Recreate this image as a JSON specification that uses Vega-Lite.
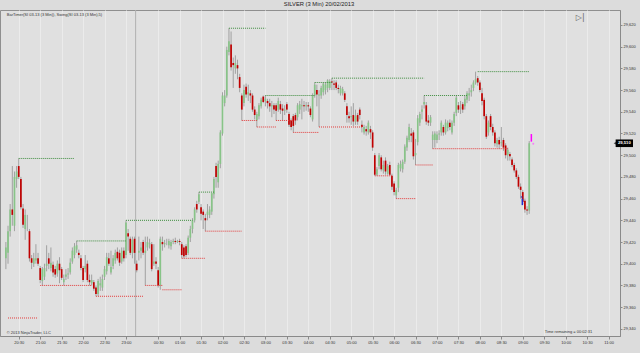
{
"$schema": "https://vega.github.io/schema/vega-lite/v6.json",
"width": 620, "height": 326,
"autosize": {"type": "none"},
"padding": {"left": 0, "top": 10, "right": 20, "bottom": 17},
"background": "#dcdcdc",
"config": {"view": {"fill": "#e0e0e0", "stroke": "#8f8f8f"}, "font": "Liberation Sans", "axis": {"labelOverlap": false, "tickCount": 100}},
"title": {"text": "SILVER (3 Min)  20/02/2013", "fontSize": 5.8, "fontWeight": "normal", "color": "#222", "offset": 2.7, "anchor": "middle", "dx": 9},
"datasets": {
"one": [{}],
"candles": [
{"i":0,"o":29.405,"h":29.42,"l":29.395,"c":29.415},
{"i":1,"o":29.41,"h":29.435,"l":29.4,"c":29.43},
{"i":2,"o":29.43,"h":29.455,"l":29.425,"c":29.45},
{"i":3,"o":29.45,"h":29.49,"l":29.435,"c":29.445},
{"i":4,"o":29.435,"h":29.485,"l":29.43,"c":29.48},
{"i":5,"o":29.478,"h":29.49,"l":29.47,"c":29.485},
{"i":6,"o":29.49,"h":29.497,"l":29.478,"c":29.48},
{"i":7,"o":29.478,"h":29.48,"l":29.45,"c":29.452},
{"i":8,"o":29.451,"h":29.455,"l":29.433,"c":29.436},
{"i":9,"o":29.432,"h":29.45,"l":29.422,"c":29.445},
{"i":10,"o":29.44,"h":29.445,"l":29.43,"c":29.44},
{"i":11,"o":29.43,"h":29.432,"l":29.402,"c":29.405},
{"i":12,"o":29.405,"h":29.408,"l":29.395,"c":29.401},
{"i":13,"o":29.4,"h":29.41,"l":29.397,"c":29.405},
{"i":14,"o":29.403,"h":29.418,"l":29.4,"c":29.405},
{"i":15,"o":29.405,"h":29.41,"l":29.398,"c":29.4},
{"i":16,"o":29.396,"h":29.398,"l":29.382,"c":29.385},
{"i":17,"o":29.384,"h":29.397,"l":29.38,"c":29.395},
{"i":18,"o":29.388,"h":29.4,"l":29.385,"c":29.396},
{"i":19,"o":29.398,"h":29.417,"l":29.393,"c":29.4},
{"i":20,"o":29.405,"h":29.41,"l":29.395,"c":29.4},
{"i":21,"o":29.396,"h":29.415,"l":29.393,"c":29.401},
{"i":22,"o":29.399,"h":29.402,"l":29.388,"c":29.392},
{"i":23,"o":29.395,"h":29.398,"l":29.387,"c":29.39},
{"i":24,"o":29.391,"h":29.403,"l":29.388,"c":29.4},
{"i":25,"o":29.4,"h":29.406,"l":29.382,"c":29.394},
{"i":26,"o":29.395,"h":29.397,"l":29.385,"c":29.387},
{"i":27,"o":29.383,"h":29.39,"l":29.38,"c":29.386},
{"i":28,"o":29.388,"h":29.395,"l":29.385,"c":29.39},
{"i":29,"o":29.39,"h":29.396,"l":29.386,"c":29.391},
{"i":30,"o":29.392,"h":29.405,"l":29.39,"c":29.401},
{"i":31,"o":29.402,"h":29.415,"l":29.4,"c":29.412},
{"i":32,"o":29.408,"h":29.419,"l":29.405,"c":29.416},
{"i":33,"o":29.413,"h":29.421,"l":29.41,"c":29.417},
{"i":34,"o":29.41,"h":29.413,"l":29.405,"c":29.408},
{"i":35,"o":29.405,"h":29.408,"l":29.394,"c":29.396},
{"i":36,"o":29.396,"h":29.398,"l":29.383,"c":29.385},
{"i":37,"o":29.395,"h":29.408,"l":29.392,"c":29.398},
{"i":38,"o":29.4,"h":29.403,"l":29.383,"c":29.385},
{"i":39,"o":29.385,"h":29.39,"l":29.38,"c":29.383},
{"i":40,"o":29.382,"h":29.39,"l":29.38,"c":29.385},
{"i":41,"o":29.383,"h":29.385,"l":29.375,"c":29.377},
{"i":42,"o":29.378,"h":29.38,"l":29.37,"c":29.372},
{"i":43,"o":29.372,"h":29.386,"l":29.37,"c":29.384},
{"i":44,"o":29.38,"h":29.388,"l":29.375,"c":29.382},
{"i":45,"o":29.378,"h":29.39,"l":29.375,"c":29.386},
{"i":46,"o":29.388,"h":29.398,"l":29.385,"c":29.395},
{"i":47,"o":29.393,"h":29.41,"l":29.39,"c":29.406},
{"i":48,"o":29.405,"h":29.41,"l":29.398,"c":29.4},
{"i":49,"o":29.392,"h":29.412,"l":29.39,"c":29.397},
{"i":50,"o":29.398,"h":29.408,"l":29.395,"c":29.405},
{"i":51,"o":29.403,"h":29.413,"l":29.4,"c":29.41},
{"i":52,"o":29.411,"h":29.415,"l":29.403,"c":29.405},
{"i":53,"o":29.41,"h":29.413,"l":29.398,"c":29.401},
{"i":54,"o":29.402,"h":29.415,"l":29.4,"c":29.412},
{"i":55,"o":29.412,"h":29.415,"l":29.402,"c":29.405},
{"i":56,"o":29.408,"h":29.44,"l":29.405,"c":29.438},
{"i":57,"o":29.428,"h":29.432,"l":29.412,"c":29.425},
{"i":58,"o":29.423,"h":29.425,"l":29.408,"c":29.41},
{"i":59,"o":29.41,"h":29.425,"l":29.405,"c":29.422},
{"i":60,"o":29.423,"h":29.425,"l":29.4,"c":29.41},
{"i":61,"o":29.4,"h":29.403,"l":29.392,"c":29.394},
{"i":62,"o":29.41,"h":29.425,"l":29.403,"c":29.412},
{"i":63,"o":29.412,"h":29.42,"l":29.405,"c":29.415},
{"i":64,"o":29.42,"h":29.422,"l":29.408,"c":29.41},
{"i":65,"o":29.41,"h":29.425,"l":29.38,"c":29.412},
{"i":66,"o":29.415,"h":29.425,"l":29.412,"c":29.42},
{"i":67,"o":29.418,"h":29.423,"l":29.414,"c":29.419},
{"i":68,"o":29.418,"h":29.42,"l":29.393,"c":29.395},
{"i":69,"o":29.4,"h":29.418,"l":29.398,"c":29.402},
{"i":70,"o":29.402,"h":29.406,"l":29.395,"c":29.4},
{"i":71,"o":29.394,"h":29.397,"l":29.378,"c":29.38},
{"i":72,"o":29.38,"h":29.425,"l":29.376,"c":29.423},
{"i":73,"o":29.42,"h":29.425,"l":29.412,"c":29.418},
{"i":74,"o":29.418,"h":29.422,"l":29.415,"c":29.419},
{"i":75,"o":29.42,"h":29.423,"l":29.417,"c":29.42},
{"i":76,"o":29.417,"h":29.423,"l":29.414,"c":29.421},
{"i":77,"o":29.416,"h":29.422,"l":29.413,"c":29.42},
{"i":78,"o":29.42,"h":29.423,"l":29.418,"c":29.421},
{"i":79,"o":29.421,"h":29.424,"l":29.418,"c":29.42},
{"i":80,"o":29.42,"h":29.422,"l":29.419,"c":29.421},
{"i":81,"o":29.421,"h":29.423,"l":29.417,"c":29.42},
{"i":82,"o":29.418,"h":29.42,"l":29.405,"c":29.408},
{"i":83,"o":29.415,"h":29.417,"l":29.405,"c":29.407},
{"i":84,"o":29.416,"h":29.418,"l":29.406,"c":29.408},
{"i":85,"o":29.41,"h":29.426,"l":29.408,"c":29.424},
{"i":86,"o":29.424,"h":29.435,"l":29.42,"c":29.432},
{"i":87,"o":29.432,"h":29.442,"l":29.428,"c":29.44},
{"i":88,"o":29.44,"h":29.452,"l":29.438,"c":29.45},
{"i":89,"o":29.455,"h":29.458,"l":29.447,"c":29.45},
{"i":90,"o":29.457,"h":29.466,"l":29.455,"c":29.464},
{"i":91,"o":29.452,"h":29.455,"l":29.44,"c":29.446},
{"i":92,"o":29.448,"h":29.45,"l":29.432,"c":29.445},
{"i":93,"o":29.442,"h":29.446,"l":29.43,"c":29.44},
{"i":94,"o":29.445,"h":29.455,"l":29.44,"c":29.448},
{"i":95,"o":29.445,"h":29.453,"l":29.442,"c":29.45},
{"i":96,"o":29.448,"h":29.465,"l":29.445,"c":29.465},
{"i":97,"o":29.464,"h":29.48,"l":29.46,"c":29.478},
{"i":98,"o":29.49,"h":29.493,"l":29.47,"c":29.48},
{"i":99,"o":29.475,"h":29.495,"l":29.47,"c":29.492},
{"i":100,"o":29.492,"h":29.523,"l":29.488,"c":29.521},
{"i":101,"o":29.52,"h":29.558,"l":29.518,"c":29.555},
{"i":102,"o":29.548,"h":29.56,"l":29.545,"c":29.555},
{"i":103,"o":29.555,"h":29.6,"l":29.553,"c":29.597},
{"i":104,"o":29.595,"h":29.617,"l":29.592,"c":29.605},
{"i":105,"o":29.602,"h":29.614,"l":29.578,"c":29.581},
{"i":106,"o":29.585,"h":29.59,"l":29.562,"c":29.583},
{"i":107,"o":29.58,"h":29.592,"l":29.575,"c":29.585},
{"i":108,"o":29.583,"h":29.588,"l":29.57,"c":29.58},
{"i":109,"o":29.572,"h":29.575,"l":29.558,"c":29.562},
{"i":110,"o":29.555,"h":29.557,"l":29.532,"c":29.542},
{"i":111,"o":29.548,"h":29.565,"l":29.545,"c":29.56},
{"i":112,"o":29.563,"h":29.566,"l":29.553,"c":29.556},
{"i":113,"o":29.556,"h":29.565,"l":29.55,"c":29.558},
{"i":114,"o":29.557,"h":29.56,"l":29.548,"c":29.555},
{"i":115,"o":29.555,"h":29.557,"l":29.54,"c":29.542},
{"i":116,"o":29.542,"h":29.545,"l":29.533,"c":29.537},
{"i":117,"o":29.532,"h":29.54,"l":29.526,"c":29.538},
{"i":118,"o":29.536,"h":29.548,"l":29.533,"c":29.546},
{"i":119,"o":29.545,"h":29.553,"l":29.543,"c":29.551},
{"i":120,"o":29.554,"h":29.555,"l":29.548,"c":29.549},
{"i":121,"o":29.55,"h":29.555,"l":29.545,"c":29.552},
{"i":122,"o":29.55,"h":29.552,"l":29.543,"c":29.548},
{"i":123,"o":29.548,"h":29.552,"l":29.54,"c":29.545},
{"i":124,"o":29.545,"h":29.55,"l":29.535,"c":29.546},
{"i":125,"o":29.546,"h":29.548,"l":29.538,"c":29.542},
{"i":126,"o":29.546,"h":29.548,"l":29.532,"c":29.541},
{"i":127,"o":29.542,"h":29.553,"l":29.54,"c":29.55},
{"i":128,"o":29.547,"h":29.55,"l":29.538,"c":29.542},
{"i":129,"o":29.543,"h":29.547,"l":29.532,"c":29.541},
{"i":130,"o":29.541,"h":29.546,"l":29.537,"c":29.542},
{"i":131,"o":29.547,"h":29.549,"l":29.539,"c":29.542},
{"i":132,"o":29.538,"h":29.54,"l":29.526,"c":29.528},
{"i":133,"o":29.532,"h":29.534,"l":29.523,"c":29.526},
{"i":134,"o":29.536,"h":29.538,"l":29.521,"c":29.527},
{"i":135,"o":29.537,"h":29.539,"l":29.528,"c":29.532},
{"i":136,"o":29.535,"h":29.548,"l":29.532,"c":29.546},
{"i":137,"o":29.542,"h":29.55,"l":29.538,"c":29.547},
{"i":138,"o":29.545,"h":29.552,"l":29.533,"c":29.546},
{"i":139,"o":29.546,"h":29.55,"l":29.54,"c":29.545},
{"i":140,"o":29.545,"h":29.549,"l":29.541,"c":29.546},
{"i":141,"o":29.546,"h":29.549,"l":29.54,"c":29.545},
{"i":142,"o":29.543,"h":29.545,"l":29.535,"c":29.537},
{"i":143,"o":29.533,"h":29.557,"l":29.531,"c":29.555},
{"i":144,"o":29.555,"h":29.567,"l":29.553,"c":29.565},
{"i":145,"o":29.56,"h":29.565,"l":29.545,"c":29.556},
{"i":146,"o":29.555,"h":29.56,"l":29.526,"c":29.556},
{"i":147,"o":29.555,"h":29.564,"l":29.552,"c":29.562},
{"i":148,"o":29.558,"h":29.567,"l":29.555,"c":29.566},
{"i":149,"o":29.56,"h":29.567,"l":29.556,"c":29.565},
{"i":150,"o":29.562,"h":29.57,"l":29.558,"c":29.569},
{"i":151,"o":29.562,"h":29.57,"l":29.56,"c":29.568},
{"i":152,"o":29.568,"h":29.571,"l":29.56,"c":29.567},
{"i":153,"o":29.566,"h":29.569,"l":29.56,"c":29.565},
{"i":154,"o":29.567,"h":29.569,"l":29.56,"c":29.562},
{"i":155,"o":29.562,"h":29.565,"l":29.557,"c":29.561},
{"i":156,"o":29.557,"h":29.564,"l":29.555,"c":29.562},
{"i":157,"o":29.557,"h":29.563,"l":29.555,"c":29.561},
{"i":158,"o":29.557,"h":29.559,"l":29.549,"c":29.551},
{"i":159,"o":29.545,"h":29.548,"l":29.53,"c":29.537},
{"i":160,"o":29.536,"h":29.54,"l":29.53,"c":29.534},
{"i":161,"o":29.535,"h":29.545,"l":29.528,"c":29.536},
{"i":162,"o":29.537,"h":29.548,"l":29.527,"c":29.531},
{"i":163,"o":29.531,"h":29.542,"l":29.528,"c":29.536},
{"i":164,"o":29.537,"h":29.539,"l":29.528,"c":29.531},
{"i":165,"o":29.542,"h":29.544,"l":29.533,"c":29.537},
{"i":166,"o":29.528,"h":29.532,"l":29.521,"c":29.526},
{"i":167,"o":29.521,"h":29.528,"l":29.519,"c":29.526},
{"i":168,"o":29.524,"h":29.527,"l":29.518,"c":29.522},
{"i":169,"o":29.521,"h":29.532,"l":29.519,"c":29.53},
{"i":170,"o":29.524,"h":29.527,"l":29.515,"c":29.521},
{"i":171,"o":29.521,"h":29.523,"l":29.504,"c":29.507},
{"i":172,"o":29.5,"h":29.502,"l":29.481,"c":29.482},
{"i":173,"o":29.482,"h":29.489,"l":29.481,"c":29.487},
{"i":174,"o":29.49,"h":29.502,"l":29.487,"c":29.5},
{"i":175,"o":29.498,"h":29.5,"l":29.485,"c":29.487},
{"i":176,"o":29.486,"h":29.495,"l":29.483,"c":29.491},
{"i":177,"o":29.495,"h":29.498,"l":29.482,"c":29.485},
{"i":178,"o":29.483,"h":29.492,"l":29.482,"c":29.49},
{"i":179,"o":29.491,"h":29.494,"l":29.481,"c":29.482},
{"i":180,"o":29.481,"h":29.483,"l":29.468,"c":29.471},
{"i":181,"o":29.474,"h":29.476,"l":29.463,"c":29.466},
{"i":182,"o":29.463,"h":29.47,"l":29.46,"c":29.468},
{"i":183,"o":29.47,"h":29.493,"l":29.466,"c":29.491},
{"i":184,"o":29.488,"h":29.495,"l":29.485,"c":29.492},
{"i":185,"o":29.487,"h":29.496,"l":29.484,"c":29.494},
{"i":186,"o":29.494,"h":29.51,"l":29.492,"c":29.508},
{"i":187,"o":29.507,"h":29.518,"l":29.504,"c":29.516},
{"i":188,"o":29.514,"h":29.529,"l":29.512,"c":29.526},
{"i":189,"o":29.52,"h":29.525,"l":29.512,"c":29.518},
{"i":190,"o":29.521,"h":29.523,"l":29.496,"c":29.499},
{"i":191,"o":29.5,"h":29.515,"l":29.491,"c":29.502},
{"i":192,"o":29.512,"h":29.537,"l":29.509,"c":29.534},
{"i":193,"o":29.53,"h":29.54,"l":29.527,"c":29.538},
{"i":194,"o":29.54,"h":29.546,"l":29.533,"c":29.542},
{"i":195,"o":29.547,"h":29.555,"l":29.543,"c":29.549},
{"i":196,"o":29.546,"h":29.549,"l":29.528,"c":29.531},
{"i":197,"o":29.532,"h":29.537,"l":29.527,"c":29.53},
{"i":198,"o":29.53,"h":29.537,"l":29.527,"c":29.535},
{"i":199,"o":29.514,"h":29.522,"l":29.506,"c":29.519},
{"i":200,"o":29.514,"h":29.522,"l":29.507,"c":29.52},
{"i":201,"o":29.514,"h":29.522,"l":29.511,"c":29.519},
{"i":202,"o":29.519,"h":29.523,"l":29.514,"c":29.52},
{"i":203,"o":29.521,"h":29.532,"l":29.518,"c":29.53},
{"i":204,"o":29.526,"h":29.528,"l":29.518,"c":29.521},
{"i":205,"o":29.521,"h":29.533,"l":29.519,"c":29.53},
{"i":206,"o":29.525,"h":29.532,"l":29.522,"c":29.53},
{"i":207,"o":29.53,"h":29.533,"l":29.523,"c":29.526},
{"i":208,"o":29.521,"h":29.532,"l":29.519,"c":29.53},
{"i":209,"o":29.53,"h":29.54,"l":29.527,"c":29.538},
{"i":210,"o":29.539,"h":29.555,"l":29.536,"c":29.553},
{"i":211,"o":29.546,"h":29.549,"l":29.539,"c":29.542},
{"i":212,"o":29.543,"h":29.55,"l":29.538,"c":29.544},
{"i":213,"o":29.547,"h":29.549,"l":29.539,"c":29.542},
{"i":214,"o":29.545,"h":29.555,"l":29.542,"c":29.552},
{"i":215,"o":29.551,"h":29.559,"l":29.548,"c":29.557},
{"i":216,"o":29.555,"h":29.562,"l":29.55,"c":29.557},
{"i":217,"o":29.558,"h":29.565,"l":29.554,"c":29.56},
{"i":218,"o":29.562,"h":29.569,"l":29.559,"c":29.567},
{"i":219,"o":29.567,"h":29.577,"l":29.565,"c":29.57},
{"i":220,"o":29.571,"h":29.573,"l":29.564,"c":29.567},
{"i":221,"o":29.567,"h":29.569,"l":29.558,"c":29.56},
{"i":222,"o":29.557,"h":29.562,"l":29.546,"c":29.55},
{"i":223,"o":29.551,"h":29.553,"l":29.533,"c":29.536},
{"i":224,"o":29.536,"h":29.538,"l":29.515,"c":29.517},
{"i":225,"o":29.521,"h":29.532,"l":29.518,"c":29.53},
{"i":226,"o":29.536,"h":29.538,"l":29.523,"c":29.526},
{"i":227,"o":29.526,"h":29.529,"l":29.518,"c":29.521},
{"i":228,"o":29.521,"h":29.523,"l":29.508,"c":29.511},
{"i":229,"o":29.51,"h":29.516,"l":29.507,"c":29.514},
{"i":230,"o":29.514,"h":29.517,"l":29.506,"c":29.51},
{"i":231,"o":29.511,"h":29.526,"l":29.508,"c":29.512},
{"i":232,"o":29.514,"h":29.516,"l":29.504,"c":29.507},
{"i":233,"o":29.509,"h":29.511,"l":29.497,"c":29.5},
{"i":234,"o":29.5,"h":29.507,"l":29.495,"c":29.505},
{"i":235,"o":29.501,"h":29.503,"l":29.495,"c":29.499},
{"i":236,"o":29.496,"h":29.498,"l":29.489,"c":29.491},
{"i":237,"o":29.491,"h":29.493,"l":29.484,"c":29.486},
{"i":238,"o":29.486,"h":29.488,"l":29.478,"c":29.48},
{"i":239,"o":29.48,"h":29.482,"l":29.469,"c":29.471},
{"i":240,"o":29.471,"h":29.474,"l":29.46,"c":29.468},
{"i":241,"o":29.466,"h":29.468,"l":29.455,"c":29.457},
{"i":242,"o":29.458,"h":29.46,"l":29.447,"c":29.45},
{"i":243,"o":29.45,"h":29.453,"l":29.445,"c":29.449},
{"i":244,"o":29.449,"h":29.513,"l":29.446,"c":29.511}
],
"swings": [
{"s":6,"e":32,"p":29.497,"k":"high"},
{"s":33,"e":56,"p":29.421,"k":"high"},
{"s":56,"e":87,"p":29.44,"k":"high"},
{"s":90,"e":97,"p":29.466,"k":"high"},
{"s":104,"e":121,"p":29.617,"k":"high"},
{"s":121,"e":144,"p":29.555,"k":"high"},
{"s":144,"e":152,"p":29.567,"k":"high"},
{"s":152,"e":195,"p":29.571,"k":"high"},
{"s":195,"e":215,"p":29.555,"k":"high"},
{"s":220,"e":244,"p":29.577,"k":"high"},
{"s":1,"e":15,"p":29.35,"k":"low"},
{"s":16,"e":40,"p":29.38,"k":"low"},
{"s":42,"e":64,"p":29.37,"k":"low"},
{"s":65,"e":73,"p":29.38,"k":"low"},
{"s":73,"e":82,"p":29.376,"k":"low"},
{"s":82,"e":93,"p":29.405,"k":"low"},
{"s":93,"e":110,"p":29.43,"k":"low"},
{"s":110,"e":117,"p":29.532,"k":"low"},
{"s":117,"e":126,"p":29.526,"k":"low"},
{"s":126,"e":134,"p":29.532,"k":"low"},
{"s":134,"e":146,"p":29.521,"k":"low"},
{"s":146,"e":166,"p":29.526,"k":"low"},
{"s":172,"e":180,"p":29.481,"k":"low"},
{"s":182,"e":191,"p":29.46,"k":"low"},
{"s":191,"e":199,"p":29.491,"k":"low"},
{"s":199,"e":234,"p":29.506,"k":"low"}
]
},
"layer": [
{
"data": {"name": "candles"},
"mark": {"type": "rule", "color": "#a0a0a0", "strokeWidth": 1},
"encoding": {
"x": {"field": "i", "type": "quantitative",
"scale": {"domain": [-0.41, 284], "nice": false, "zero": false},
"axis": {"title": null, "values": [6,16,26,36,46,56,71,81,91,101,111,121,131,141,151,161,171,181,191,201,211,221,231,241,251,261,271,281],
"tickCount": 100,
"labelExpr": "['20:30','21:00','21:30','22:00','22:30','23:00','00:30','01:00','01:30','02:00','02:30','03:00','03:30','04:00','04:30','05:00','05:30','06:00','06:30','07:00','07:30','08:00','08:30','09:00','09:30','10:00','10:30','11:00'][indexof([6,16,26,36,46,56,71,81,91,101,111,121,131,141,151,161,171,181,191,201,211,221,231,241,251,261,271,281], datum.value)]",
"grid": true, "gridColor": "#ebebeb", "gridWidth": 1, "domainColor": "#8a8a8a", "tickColor": "#8a8a8a", "tickSize": 3,
"labelFontSize": 4, "labelColor": "#333333", "labelPadding": 1, "labelOverlap": false, "labelFlush": false}},
"y": {"field": "l", "type": "quantitative",
"scale": {"domain": [29.3334, 29.6338], "nice": false, "zero": false},
"axis": {"title": null, "orient": "right", "values": [29.34,29.36,29.38,29.4,29.42,29.44,29.46,29.48,29.5,29.52,29.54,29.56,29.58,29.6,29.62],
"tickCount": 100,
"labelExpr": "replace(format(datum.value, '.3f'), '.', ',')",
"grid": false, "domainColor": "#8a8a8a", "tickColor": "#8a8a8a", "tickSize": 2,
"labelFontSize": 4, "labelColor": "#333333", "labelPadding": 1, "labelOverlap": false, "labelFlush": false}},
"y2": {"field": "h"}
}
},
{
"data": {"name": "one"},
"mark": {"type": "rule", "color": "#b0b0b0", "strokeWidth": 1},
"encoding": {"x": {"datum": 60.5, "type": "quantitative"}}
},
{
"data": {"name": "candles"},
"mark": {"type": "bar", "width": 1.7},
"encoding": {
"x": {"field": "i", "type": "quantitative"},
"y": {"field": "o", "type": "quantitative"},
"y2": {"field": "c"},
"color": {"condition": [{"test": "datum.c > datum.o", "value": "#88c488"}, {"test": "datum.c < datum.o", "value": "#c00000"}], "value": "#b0b0b0"}
}
},
{
"data": {"name": "swings"},
"mark": {"type": "rule", "strokeDash": [1, 1], "strokeWidth": 1},
"encoding": {
"x": {"field": "s", "type": "quantitative"},
"x2": {"field": "e"},
"y": {"field": "p", "type": "quantitative"},
"color": {"field": "k", "type": "nominal", "scale": {"domain": ["high", "low"], "range": ["#3d8c3d", "#e23a3a"]}, "legend": null}
}
},
{
"data": {"name": "one"},
"mark": {"type": "rule", "color": "#1f2fd0", "strokeWidth": 1.5},
"encoding": {"x": {"datum": 240.8, "type": "quantitative"}, "y": {"datum": 29.454, "type": "quantitative"}, "y2": {"datum": 29.46}}
},
{
"data": {"name": "one"},
"mark": {"type": "point", "shape": "triangle-right", "filled": true, "color": "#1f2fd0", "size": 6},
"encoding": {"x": {"datum": 240.6, "type": "quantitative"}, "y": {"datum": 29.4615, "type": "quantitative"}}
},
{
"data": {"name": "one"},
"mark": {"type": "rule", "color": "#ff00ff", "strokeWidth": 1.5},
"encoding": {"x": {"datum": 245, "type": "quantitative"}, "y": {"datum": 29.5125, "type": "quantitative"}, "y2": {"datum": 29.5195}}
},
{
"data": {"name": "one"},
"mark": {"type": "point", "shape": "circle", "filled": true, "color": "#ff55ff", "size": 4},
"encoding": {"x": {"datum": 245.9, "type": "quantitative"}, "y": {"datum": 29.5105, "type": "quantitative"}}
},
{
"data": {"name": "one"},
"mark": {"type": "rect", "color": "#000000"},
"encoding": {"x": {"datum": 284.3, "type": "quantitative"}, "x2": {"datum": 292.4}, "y": {"datum": 29.5145, "type": "quantitative"}, "y2": {"datum": 29.5075}}
},
{
"data": {"name": "one"},
"mark": {"type": "point", "shape": "triangle-left", "filled": true, "color": "#000000", "size": 10},
"encoding": {"x": {"datum": 284.0, "type": "quantitative"}, "y": {"datum": 29.511, "type": "quantitative"}}
},
{
"data": {"name": "one"},
"mark": {"type": "text", "color": "#ffffff", "fontSize": 4.2, "fontWeight": "bold", "align": "center", "baseline": "middle"},
"encoding": {"x": {"datum": 288.35, "type": "quantitative"}, "y": {"datum": 29.511, "type": "quantitative"}, "text": {"value": "29,510"}}
},
{
"data": {"name": "one"},
"mark": {"type": "text", "color": "#333333", "fontSize": 4, "align": "left", "baseline": "middle"},
"encoding": {"x": {"datum": 0.4, "type": "quantitative"}, "y": {"datum": 29.629, "type": "quantitative"}, "text": {"value": "BarTimer(SI 03-13 (3 Min)), Swing(SI 03-13 (3 Min),5)"}}
},
{
"data": {"name": "one"},
"mark": {"type": "text", "color": "#333333", "fontSize": 4, "align": "left", "baseline": "middle"},
"encoding": {"x": {"datum": 0.4, "type": "quantitative"}, "y": {"datum": 29.3362, "type": "quantitative"}, "text": {"value": "© 2013 NinjaTrader, LLC"}}
},
{
"data": {"name": "one"},
"mark": {"type": "text", "color": "#333333", "fontSize": 4, "align": "right", "baseline": "middle"},
"encoding": {"x": {"datum": 273.4, "type": "quantitative"}, "y": {"datum": 29.3371, "type": "quantitative"}, "text": {"value": "Time remaining = 00:02:31"}}
},
{
"data": {"name": "one"},
"mark": {"type": "text", "color": "#666666", "fontSize": 8, "font": "DejaVu Sans", "align": "center", "baseline": "middle"},
"encoding": {"x": {"datum": 267.8, "type": "quantitative"}, "y": {"datum": 29.6262, "type": "quantitative"}, "text": {"value": "▷|"}}
}
]
}
